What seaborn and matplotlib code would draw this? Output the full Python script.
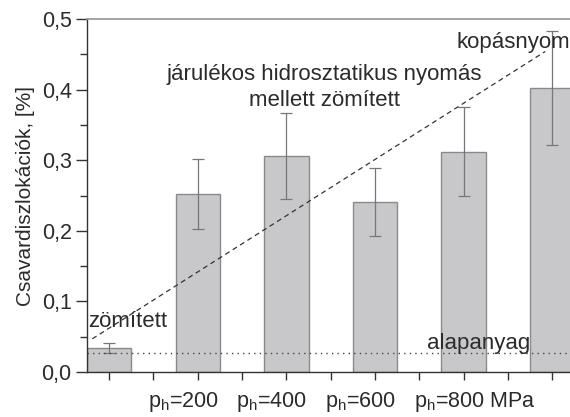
import matplotlib
matplotlib.use("Agg")
import matplotlib.pyplot as plt
import matplotlib.transforms as mtransforms
import seaborn as sns
import pandas as pd
import numpy as np

categories = ["zömített", "p200", "p400", "p600", "p800", "kopásnyom"]
values = [0.034, 0.252, 0.306, 0.241, 0.312, 0.402]
errors = [0.007, 0.050, 0.061, 0.048, 0.063, 0.081]
tick_labels = ["", "p$_\\mathregular{h}$=200", "p$_\\mathregular{h}$=400",
               "p$_\\mathregular{h}$=600", "p$_\\mathregular{h}$=800 MPa", ""]
baseline = 0.0265
trend_x = [-0.19, 4.92]
trend_y = [0.047, 0.454]

sns.set_theme(style="ticks")
plt.rcParams['font.family'] = ['Liberation Sans', 'DejaVu Sans']
plt.rcParams['mathtext.fontset'] = 'custom'
plt.rcParams['mathtext.rm'] = 'Liberation Sans'

txt = "#2b2b2b"
fig = plt.figure(figsize=(5.70, 4.17), dpi=100)
ax = fig.add_axes([0.1526, 0.1079, 0.8474, 0.8465])

df = pd.DataFrame({"cat": categories, "val": values})
sns.barplot(data=df, x="cat", y="val", ax=ax, color="#c8c8ca", width=0.5,
            edgecolor="#8a8a8a", linewidth=1.0, saturation=1)
ax.errorbar(np.arange(len(values)), values, yerr=errors, fmt="none",
            ecolor="#777777", elinewidth=0.9, capsize=4, capthick=0.9)

ax.axhline(baseline, color="#444444", linestyle=(0, (1, 3)), linewidth=1.0)
ax.plot(trend_x, trend_y, color="#333333", linestyle=(0, (4, 3)), linewidth=0.9)

ax.set_xlim(-0.25, 5.2)
ax.set_ylim(0, 0.5)
ax.set_yticks([0, 0.1, 0.2, 0.3, 0.4, 0.5])
ax.set_yticklabels([f"{v:.1f}".replace(".", ",") for v in [0, 0.1, 0.2, 0.3, 0.4, 0.5]])
ax.set_yticks(np.arange(0.05, 0.5, 0.1), minor=True)
ax.set_xticks(range(6))
ax.set_xticklabels(tick_labels)
ax.set_xticks(np.arange(0.5, 5.5, 1.0), minor=True)
ax.tick_params(axis="y", which="major", length=8, width=1, colors="#333333",
               labelsize=15.5, labelcolor=txt, pad=3)
ax.tick_params(axis="y", which="minor", length=5, width=1, colors="#333333")
ax.tick_params(axis="x", which="both", length=6, width=1, colors="#333333")
ax.tick_params(axis="x", which="major", labelsize=15.5, labelcolor=txt, pad=7)
off = mtransforms.ScaledTranslation(-50 / 100, 0, fig.dpi_scale_trans)
for lab in ax.get_xticklabels():
    lab.set_horizontalalignment("left")
    lab.set_transform(lab.get_transform() + off)

ax.set_xlabel("")
ax.set_ylabel("Csavardiszlokációk, [%]", fontsize=15, color=txt, labelpad=5)

for s in ["left", "bottom"]:
    ax.spines[s].set_color("#333333")
    ax.spines[s].set_linewidth(1.0)
ax.spines["top"].set_color("#999999")
ax.spines["right"].set_visible(False)

fs = 16
ax.text(-0.24, 0.071, "zömített", fontsize=fs, color=txt, ha="left", va="center")
ax.text(2.43, 0.421, "járulékos hidrosztatikus nyomás", fontsize=fs, color=txt,
        ha="center", va="center")
ax.text(2.43, 0.384, "mellett zömített", fontsize=fs, color=txt, ha="center", va="center")
ax.text(5.2, 0.467, "kopásnyom", fontsize=fs, color=txt, ha="right", va="center")
ax.text(4.75, 0.041, "alapanyag", fontsize=fs, color=txt, ha="right", va="center")

fig.savefig("out.png", dpi=100)
